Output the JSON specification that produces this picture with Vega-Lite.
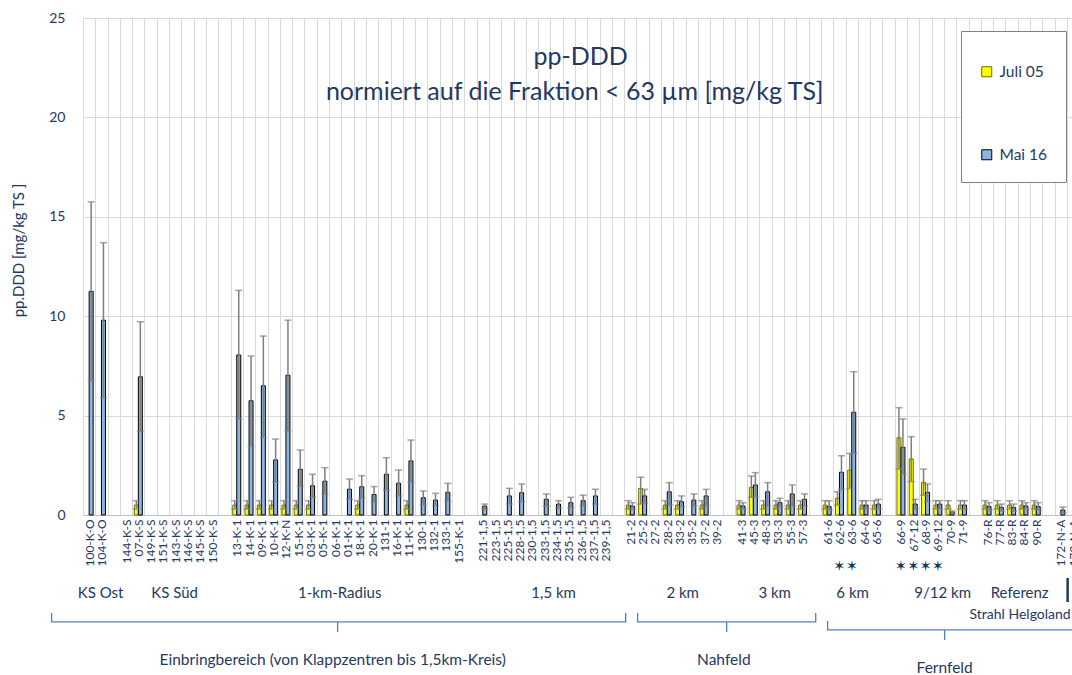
{
  "$schema": "https://vega.github.io/schema/vega-lite/v6.json",
  "width": 989,
  "height": 497,
  "autosize": {"type": "none"},
  "padding": {"left": 83, "top": 18, "right": 0, "bottom": 160},
  "background": "#ffffff",
  "config": {"view": {"stroke": null}, "font": "Lato"},
  "datasets": {
    "bars": [
      {"cat": "100-K-O", "series": "Mai 16", "value": 11.25, "lo": 6.75, "hi": 15.75},
      {"cat": "104-K-O", "series": "Mai 16", "value": 9.8, "lo": 5.9, "hi": 13.7},
      {"cat": "07-K-S", "series": "Juli 05", "value": 0.5, "lo": 0.3, "hi": 0.72},
      {"cat": "07-K-S", "series": "Mai 16", "value": 6.95, "lo": 4.2, "hi": 9.72},
      {"cat": "13-K-1", "series": "Juli 05", "value": 0.5, "lo": 0.3, "hi": 0.72},
      {"cat": "13-K-1", "series": "Mai 16", "value": 8.05, "lo": 4.83, "hi": 11.3},
      {"cat": "14-K-1", "series": "Juli 05", "value": 0.5, "lo": 0.3, "hi": 0.72},
      {"cat": "14-K-1", "series": "Mai 16", "value": 5.75, "lo": 3.45, "hi": 8.0},
      {"cat": "09-K-1", "series": "Juli 05", "value": 0.5, "lo": 0.3, "hi": 0.72},
      {"cat": "09-K-1", "series": "Mai 16", "value": 6.5, "lo": 3.9, "hi": 9.0},
      {"cat": "10-K-1", "series": "Juli 05", "value": 0.5, "lo": 0.3, "hi": 0.72},
      {"cat": "10-K-1", "series": "Mai 16", "value": 2.77, "lo": 1.65, "hi": 3.82},
      {"cat": "12-K-N", "series": "Juli 05", "value": 0.5, "lo": 0.3, "hi": 0.72},
      {"cat": "12-K-N", "series": "Mai 16", "value": 7.03, "lo": 4.22, "hi": 9.8},
      {"cat": "15-K-1", "series": "Juli 05", "value": 0.5, "lo": 0.3, "hi": 0.72},
      {"cat": "15-K-1", "series": "Mai 16", "value": 2.3, "lo": 1.43, "hi": 3.27},
      {"cat": "03-K-1", "series": "Juli 05", "value": 0.5, "lo": 0.3, "hi": 0.72},
      {"cat": "03-K-1", "series": "Mai 16", "value": 1.47, "lo": 0.89, "hi": 2.05},
      {"cat": "05-K-1", "series": "Mai 16", "value": 1.7, "lo": 1.04, "hi": 2.38},
      {"cat": "01-K-1", "series": "Mai 16", "value": 1.3, "lo": 0.8, "hi": 1.81},
      {"cat": "18-K-1", "series": "Juli 05", "value": 0.5, "lo": 0.3, "hi": 0.72},
      {"cat": "18-K-1", "series": "Mai 16", "value": 1.42, "lo": 0.84, "hi": 1.98},
      {"cat": "20-K-1", "series": "Mai 16", "value": 1.03, "lo": 0.64, "hi": 1.43},
      {"cat": "131-1", "series": "Mai 16", "value": 2.05, "lo": 1.26, "hi": 2.88},
      {"cat": "16-K-1", "series": "Mai 16", "value": 1.6, "lo": 0.96, "hi": 2.26},
      {"cat": "11-K-1", "series": "Juli 05", "value": 0.5, "lo": 0.3, "hi": 0.72},
      {"cat": "11-K-1", "series": "Mai 16", "value": 2.72, "lo": 1.64, "hi": 3.77},
      {"cat": "130-1", "series": "Mai 16", "value": 0.87, "lo": 0.5, "hi": 1.21},
      {"cat": "132-1", "series": "Mai 16", "value": 0.75, "lo": 0.47, "hi": 1.09},
      {"cat": "133-1", "series": "Mai 16", "value": 1.14, "lo": 0.7, "hi": 1.59},
      {"cat": "221-1,5", "series": "Mai 16", "value": 0.45, "lo": 0.3, "hi": 0.55},
      {"cat": "225-1,5", "series": "Mai 16", "value": 0.96, "lo": 0.55, "hi": 1.34},
      {"cat": "228-1,5", "series": "Mai 16", "value": 1.12, "lo": 0.67, "hi": 1.56},
      {"cat": "233-1,5", "series": "Mai 16", "value": 0.79, "lo": 0.45, "hi": 1.06},
      {"cat": "234-1,5", "series": "Mai 16", "value": 0.55, "lo": 0.34, "hi": 0.72},
      {"cat": "235-1,5", "series": "Mai 16", "value": 0.62, "lo": 0.37, "hi": 0.89},
      {"cat": "236-1,5", "series": "Mai 16", "value": 0.72, "lo": 0.45, "hi": 1.0},
      {"cat": "237-1,5", "series": "Mai 16", "value": 0.96, "lo": 0.55, "hi": 1.29},
      {"cat": "21-2", "series": "Juli 05", "value": 0.5, "lo": 0.3, "hi": 0.72},
      {"cat": "21-2", "series": "Mai 16", "value": 0.45, "lo": 0.3, "hi": 0.62},
      {"cat": "25-2", "series": "Juli 05", "value": 1.34, "lo": 0.55, "hi": 1.9},
      {"cat": "25-2", "series": "Mai 16", "value": 0.96, "lo": 0.6, "hi": 1.29},
      {"cat": "28-2", "series": "Juli 05", "value": 0.5, "lo": 0.3, "hi": 0.72},
      {"cat": "28-2", "series": "Mai 16", "value": 1.17, "lo": 0.5, "hi": 1.63},
      {"cat": "33-2", "series": "Juli 05", "value": 0.5, "lo": 0.3, "hi": 0.72},
      {"cat": "33-2", "series": "Mai 16", "value": 0.67, "lo": 0.42, "hi": 0.96},
      {"cat": "35-2", "series": "Mai 16", "value": 0.75, "lo": 0.45, "hi": 1.06},
      {"cat": "37-2", "series": "Juli 05", "value": 0.5, "lo": 0.3, "hi": 0.72},
      {"cat": "37-2", "series": "Mai 16", "value": 0.96, "lo": 0.45, "hi": 1.29},
      {"cat": "41-3", "series": "Juli 05", "value": 0.5, "lo": 0.3, "hi": 0.72},
      {"cat": "41-3", "series": "Mai 16", "value": 0.45, "lo": 0.3, "hi": 0.62},
      {"cat": "45-3", "series": "Juli 05", "value": 1.39, "lo": 0.89, "hi": 1.96},
      {"cat": "45-3", "series": "Mai 16", "value": 1.51, "lo": 0.92, "hi": 2.13},
      {"cat": "48-3", "series": "Juli 05", "value": 0.5, "lo": 0.3, "hi": 0.72},
      {"cat": "48-3", "series": "Mai 16", "value": 1.17, "lo": 0.45, "hi": 1.63},
      {"cat": "53-3", "series": "Juli 05", "value": 0.5, "lo": 0.3, "hi": 0.72},
      {"cat": "53-3", "series": "Mai 16", "value": 0.62, "lo": 0.42, "hi": 0.84},
      {"cat": "55-3", "series": "Juli 05", "value": 0.5, "lo": 0.3, "hi": 0.72},
      {"cat": "55-3", "series": "Mai 16", "value": 1.06, "lo": 0.45, "hi": 1.51},
      {"cat": "57-3", "series": "Juli 05", "value": 0.5, "lo": 0.3, "hi": 0.72},
      {"cat": "57-3", "series": "Mai 16", "value": 0.79, "lo": 0.45, "hi": 1.06},
      {"cat": "61-6", "series": "Juli 05", "value": 0.5, "lo": 0.3, "hi": 0.72},
      {"cat": "61-6", "series": "Mai 16", "value": 0.42, "lo": 0.25, "hi": 0.72},
      {"cat": "62-6", "series": "Juli 05", "value": 0.84, "lo": 0.5, "hi": 1.17},
      {"cat": "62-6", "series": "Mai 16", "value": 2.15, "lo": 1.29, "hi": 2.98},
      {"cat": "63-6", "series": "Juli 05", "value": 2.26, "lo": 1.34, "hi": 3.1},
      {"cat": "63-6", "series": "Mai 16", "value": 5.17, "lo": 3.1, "hi": 7.21},
      {"cat": "64-6", "series": "Juli 05", "value": 0.5, "lo": 0.3, "hi": 0.72},
      {"cat": "64-6", "series": "Mai 16", "value": 0.5, "lo": 0.3, "hi": 0.72},
      {"cat": "65-6", "series": "Juli 05", "value": 0.5, "lo": 0.3, "hi": 0.72},
      {"cat": "65-6", "series": "Mai 16", "value": 0.55, "lo": 0.3, "hi": 0.79},
      {"cat": "66-9", "series": "Juli 05", "value": 3.89, "lo": 2.31, "hi": 5.4},
      {"cat": "66-9", "series": "Mai 16", "value": 3.4, "lo": 2.06, "hi": 4.83},
      {"cat": "67-12", "series": "Juli 05", "value": 2.82, "lo": 1.68, "hi": 3.94},
      {"cat": "67-12", "series": "Mai 16", "value": 0.55, "lo": 0.3, "hi": 0.79},
      {"cat": "68-9", "series": "Juli 05", "value": 1.64, "lo": 1.0, "hi": 2.31},
      {"cat": "68-9", "series": "Mai 16", "value": 1.14, "lo": 0.67, "hi": 1.56},
      {"cat": "69-12", "series": "Juli 05", "value": 0.5, "lo": 0.3, "hi": 0.72},
      {"cat": "69-12", "series": "Mai 16", "value": 0.55, "lo": 0.3, "hi": 0.72},
      {"cat": "70-9", "series": "Juli 05", "value": 0.5, "lo": 0.3, "hi": 0.72},
      {"cat": "70-9", "series": "Mai 16", "value": 0.15, "lo": 0.1, "hi": 0.2},
      {"cat": "71-9", "series": "Juli 05", "value": 0.5, "lo": 0.3, "hi": 0.72},
      {"cat": "71-9", "series": "Mai 16", "value": 0.5, "lo": 0.3, "hi": 0.72},
      {"cat": "76-R", "series": "Juli 05", "value": 0.5, "lo": 0.3, "hi": 0.72},
      {"cat": "76-R", "series": "Mai 16", "value": 0.42, "lo": 0.25, "hi": 0.62},
      {"cat": "77-R", "series": "Juli 05", "value": 0.5, "lo": 0.3, "hi": 0.72},
      {"cat": "77-R", "series": "Mai 16", "value": 0.38, "lo": 0.2, "hi": 0.55},
      {"cat": "83-R", "series": "Juli 05", "value": 0.5, "lo": 0.3, "hi": 0.72},
      {"cat": "83-R", "series": "Mai 16", "value": 0.38, "lo": 0.2, "hi": 0.55},
      {"cat": "84-R", "series": "Juli 05", "value": 0.5, "lo": 0.3, "hi": 0.72},
      {"cat": "84-R", "series": "Mai 16", "value": 0.45, "lo": 0.3, "hi": 0.62},
      {"cat": "90-R", "series": "Juli 05", "value": 0.5, "lo": 0.3, "hi": 0.72},
      {"cat": "90-R", "series": "Mai 16", "value": 0.42, "lo": 0.25, "hi": 0.62},
      {"cat": "172-N-A", "series": "Mai 16", "value": 0.25, "lo": 0.1, "hi": 0.4}
    ],
    "stars": [
      {"cat": "62-6", "text": "✶"}, {"cat": "63-6", "text": "✶"},
      {"cat": "66-9", "text": "✶"}, {"cat": "67-12", "text": "✶"},
      {"cat": "68-9", "text": "✶"}, {"cat": "69-12", "text": "✶"}
    ],
    "groups": [
      {"p": 0.93, "v": -3.92, "text": "KS Ost"},
      {"p": 6.95, "v": -3.92, "text": "KS Süd"},
      {"p": 20.37, "v": -3.92, "text": "1-km-Radius"},
      {"p": 37.76, "v": -3.92, "text": "1,5 km"},
      {"p": 48.25, "v": -3.92, "text": "2 km"},
      {"p": 55.73, "v": -3.92, "text": "3 km"},
      {"p": 62.07, "v": -3.92, "text": "6 km"},
      {"p": 69.39, "v": -3.92, "text": "9/12 km"},
      {"p": 75.65, "v": -3.92, "text": "Referenz"}
    ],
    "strahl": [{"p": 79.8, "v": -5.03, "text": "Strahl Helgoland"}],
    "areas": [
      {"p": 19.8, "v": -7.29, "text": "Einbringbereich (von Klappzentren bis 1,5km-Kreis)"},
      {"p": 51.6, "v": -7.29, "text": "Nahfeld"},
      {"p": 69.55, "v": -7.7, "text": "Fernfeld"}
    ],
    "braces": [
      {"brace": "A", "o": 0, "p": -3.05, "v": -4.93},
      {"brace": "A", "o": 1, "p": -3.05, "v": -5.38},
      {"brace": "A", "o": 2, "p": 43.62, "v": -5.38},
      {"brace": "A", "o": 3, "p": 43.62, "v": -4.93},
      {"brace": "B", "o": 0, "p": 44.59, "v": -4.93},
      {"brace": "B", "o": 1, "p": 44.59, "v": -5.38},
      {"brace": "B", "o": 2, "p": 59.07, "v": -5.38},
      {"brace": "B", "o": 3, "p": 59.07, "v": -4.93},
      {"brace": "C", "o": 0, "p": 60.04, "v": -5.33},
      {"brace": "C", "o": 1, "p": 60.04, "v": -5.78},
      {"brace": "C", "o": 2, "p": 90, "v": -5.78}
    ],
    "braceTips": [
      {"p": 20.2, "v": -5.38, "v2": -5.89},
      {"p": 51.83, "v": -5.38, "v2": -5.89},
      {"p": 69.55, "v": -5.78, "v2": -6.29}
    ],
    "marker": [{"p": 79.55, "v": -3.17, "v2": -4.38}],
    "heading": [
      {"p": 39.96, "v": 23.04, "text": "pp-DDD"},
      {"p": 39.47, "v": 21.28, "text": "normiert auf die Fraktion < 63 µm [mg/kg TS]"}
    ]
  },
  "layer": [
    {
      "encoding": {
        "x": {
          "field": "cat", "type": "nominal", "sort": null,
          "scale": {
            "domain": ["100-K-O","104-K-O","gap1","144-K-S","07-K-S","149-K-S","151-K-S","143-K-S","146-K-S","145-K-S","150-K-S","gap2","13-K-1","14-K-1","09-K-1","10-K-1","12-K-N","15-K-1","03-K-1","05-K-1","06-K-1","01-K-1","18-K-1","20-K-1","131-1","16-K-1","11-K-1","130-1","132-1","133-1","155-K-1","gap3","221-1,5","223-1,5","225-1,5","228-1,5","230-1,5","233-1,5","234-1,5","235-1,5","236-1,5","237-1,5","239-1,5","gap4","21-2","25-2","27-2","28-2","33-2","35-2","37-2","39-2","gap5","41-3","45-3","48-3","53-3","55-3","57-3","gap6","61-6","62-6","63-6","64-6","65-6","gap7","66-9","67-12","68-9","69-12","70-9","71-9","gap8","76-R","77-R","83-R","84-R","90-R","gap9","172-N-A","173-N-A"],
            "range": [0, 996.3], "paddingInner": 0, "paddingOuter": 0
          },
          "axis": {
            "title": null, "labelAngle": -90, "labelAlign": "right", "labelBaseline": "middle",
            "labelFont": "Lato", "labelFontSize": 12, "labelColor": "#1f3864", "labelPadding": 4,
            "labelOverlap": false, "ticks": false, "grid": true, "gridColor": "#d9d9d9", "gridWidth": 1,
            "tickBand": "extent", "domainColor": "#bfbfbf", "domainWidth": 1,
            "labelExpr": "indexof(datum.label, 'gap') == 0 ? '' : datum.label"
          }
        }
      },
      "layer": [
        {
          "data": {"name": "bars"},
          "mark": {"type": "bar", "strokeWidth": 1},
          "encoding": {
            "xOffset": {"field": "series", "type": "nominal", "scale": {"domain": ["Juli 05", "Mai 16"], "paddingInner": 0, "paddingOuter": 0.54}},
            "y": {
              "field": "value", "type": "quantitative", "title": "pp.DDD [mg/kg TS ]",
              "scale": {"domain": [0, 25], "nice": false, "zero": true},
              "axis": {
                "values": [0, 5, 10, 15, 20, 25], "grid": true, "gridColor": "#d9d9d9", "ticks": false, "domain": false,
                "labelFont": "Lato", "labelFontSize": 14, "labelColor": "#1f3864", "labelPadding": 18,
                "titleFont": "Lato", "titleFontSize": 15, "titleFontWeight": "normal", "titleColor": "#1f3864",
                "titlePadding": 22, "titleY": 232
              }
            },
            "fill": {
              "field": "series", "type": "nominal",
              "scale": {"domain": ["Juli 05", "Mai 16"], "range": ["#ffff00", "#8db4e2"]},
              "legend": {
                "title": " ", "titleFontSize": 14, "titlePadding": 1, "orient": "none", "legendX": 878, "legendY": 13,
                "padding": 18, "rowPadding": 66, "strokeColor": "#808080", "fillColor": "#ffffff",
                "symbolType": "square", "symbolSize": 100, "symbolStrokeWidth": 1, "labelOffset": 5,
                "labelFont": "Lato", "labelFontSize": 15.5, "labelColor": "#1f3864"
              }
            },
            "stroke": {
              "field": "series", "type": "nominal",
              "scale": {"domain": ["Juli 05", "Mai 16"], "range": ["#6b6b00", "#000000"]},
              "legend": {
                "title": " ", "titleFontSize": 14, "titlePadding": 1, "orient": "none", "legendX": 878, "legendY": 13,
                "padding": 18, "rowPadding": 66, "strokeColor": "#808080", "fillColor": "#ffffff",
                "symbolType": "square", "symbolSize": 100, "symbolStrokeWidth": 1, "labelOffset": 5,
                "labelFont": "Lato", "labelFontSize": 15.5, "labelColor": "#1f3864"
              }
            }
          }
        },
        {
          "data": {"name": "bars"},
          "mark": {"type": "rule", "color": "#7f7f7f", "strokeWidth": 1.5},
          "encoding": {
            "xOffset": {"field": "series", "type": "nominal"},
            "y": {"field": "lo", "type": "quantitative", "title": "pp.DDD [mg/kg TS ]"},
            "y2": {"field": "hi"}
          }
        },
        {
          "data": {"name": "bars"},
          "mark": {"type": "tick", "orient": "horizontal", "color": "#7f7f7f", "size": 7, "thickness": 1.5},
          "encoding": {
            "xOffset": {"field": "series", "type": "nominal"},
            "y": {"field": "lo", "type": "quantitative", "title": "pp.DDD [mg/kg TS ]"}
          }
        },
        {
          "data": {"name": "bars"},
          "mark": {"type": "tick", "orient": "horizontal", "color": "#7f7f7f", "size": 7, "thickness": 1.5},
          "encoding": {
            "xOffset": {"field": "series", "type": "nominal"},
            "y": {"field": "hi", "type": "quantitative", "title": "pp.DDD [mg/kg TS ]"}
          }
        },
        {
          "data": {"name": "stars"},
          "mark": {"type": "text", "font": "DejaVu Sans", "fontSize": 14.5, "color": "#17375e", "baseline": "middle", "align": "center"},
          "encoding": {
            "y": {"datum": -2.62, "type": "quantitative", "title": "pp.DDD [mg/kg TS ]"},
            "text": {"field": "text"}
          }
        }
      ]
    },
    {
      "encoding": {
        "x": {"field": "p", "type": "quantitative", "scale": {"domain": [-0.5, 80.5], "range": [0, 996.3], "nice": false, "zero": false}, "axis": null},
        "y": {"field": "v", "type": "quantitative", "scale": {"domain": [0, 25], "nice": false, "zero": false}, "axis": null}
      },
      "layer": [
        {
          "data": {"name": "heading"},
          "mark": {"type": "text", "font": "Lato", "fontSize": 25, "color": "#1f3864", "align": "center", "baseline": "middle"},
          "encoding": {"text": {"field": "text"}}
        },
        {
          "data": {"name": "groups"},
          "mark": {"type": "text", "font": "Lato", "fontSize": 15, "color": "#1f3864", "align": "center", "baseline": "middle"},
          "encoding": {"text": {"field": "text"}}
        },
        {
          "data": {"name": "strahl"},
          "mark": {"type": "text", "font": "Lato", "fontSize": 14, "color": "#1f3864", "align": "right", "baseline": "middle"},
          "encoding": {"text": {"field": "text"}}
        },
        {
          "data": {"name": "areas"},
          "mark": {"type": "text", "font": "Lato", "fontSize": 15.5, "color": "#1f3864", "align": "center", "baseline": "middle"},
          "encoding": {"text": {"field": "text"}}
        },
        {
          "data": {"name": "braces"},
          "mark": {"type": "line", "color": "#4f81bd", "strokeWidth": 1.3, "clip": false},
          "encoding": {"detail": {"field": "brace"}, "order": {"field": "o", "type": "quantitative"}}
        },
        {
          "data": {"name": "braceTips"},
          "mark": {"type": "rule", "color": "#4f81bd", "strokeWidth": 1.3},
          "encoding": {"y2": {"field": "v2"}}
        },
        {
          "data": {"name": "marker"},
          "mark": {"type": "rule", "color": "#1f3864", "strokeWidth": 2.5},
          "encoding": {"y2": {"field": "v2"}}
        }
      ]
    }
  ],
  "resolve": {"scale": {"x": "independent", "y": "independent"}, "axis": {"x": "independent", "y": "independent"}}
}
